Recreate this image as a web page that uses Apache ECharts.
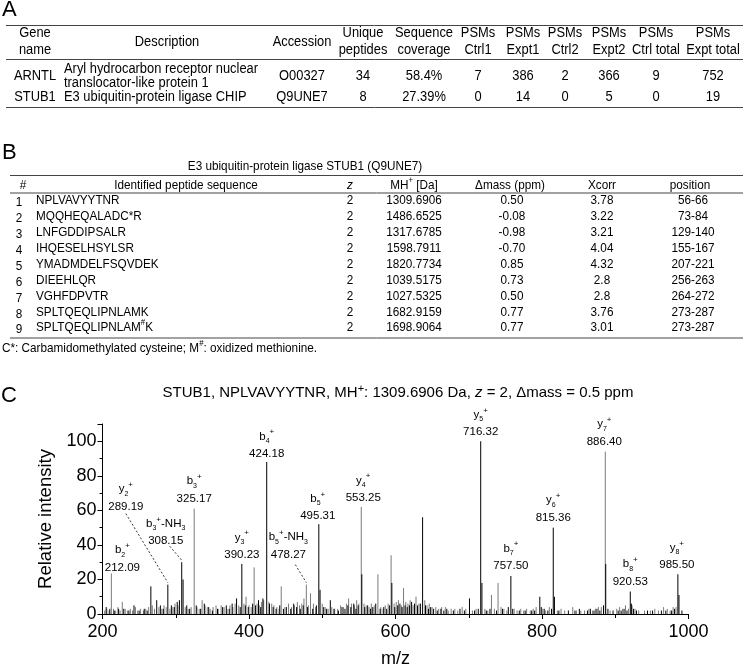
<!DOCTYPE html>
<html><head><meta charset="utf-8">
<script src="https://cdn.jsdelivr.net/npm/echarts@6/dist/echarts.min.js"></script>
<style>html,body{margin:0;padding:0;background:#fff}#c{width:745px;height:669px}</style>
</head><body><div id="c"></div>
<script>
// ---------- Table A data ----------
const headA = [['Gene','name'],['Description'],['Accession'],['Unique','peptides'],['Sequence','coverage'],['PSMs','Ctrl1'],['PSMs','Expt1'],['PSMs','Ctrl2'],['PSMs','Expt2'],['PSMs','Ctrl total'],['PSMs','Expt total']];
const geneA = ['ARNTL','STUB1'];
const descA = [['Aryl hydrocarbon receptor nuclear','translocator-like protein 1'],['E3 ubiquitin-protein ligase CHIP']];
const accA = ['O00327','Q9UNE7'];
const uniqueA = ['34','8'];
const coverA = ['58.4%','27.39%'];
const ctrl1A = ['7','0'];
const expt1A = ['386','14'];
const ctrl2A = ['2','0'];
const expt2A = ['366','5'];
const ctrlTotA = ['9','0'];
const exptTotA = ['752','19'];

// ---------- Table B data ----------
const titleB = 'E3 ubiquitin-protein ligase STUB1 (Q9UNE7)';
const headB = ['#','Identified peptide sequence','z','MH{p|+} [Da]','\u0394mass (ppm)','Xcorr','position'];
const seqB = ['NPLVAVYYTNR','MQQHEQALADC*R','LNFGDDIPSALR','IHQESELHSYLSR','YMADMDELFSQVDEK','DIEEHLQR','VGHFDPVTR','SPLTQEQLIPNLAMK','SPLTQEQLIPNLAM#K'];
const zB = ['2','2','2','2','2','2','2','2','2'];
const mhB = ['1309.6906','1486.6525','1317.6785','1598.7911','1820.7734','1039.5175','1027.5325','1682.9159','1698.9064'];
const dmB = ['0.50','-0.08','-0.98','-0.70','0.85','0.73','0.50','0.77','0.77'];
const xcB = ['3.78','3.22','3.21','4.04','4.32','2.8','2.8','3.76','3.01'];
const posB = ['56-66','73-84','129-140','155-167','207-221','256-263','264-272','273-287','273-287'];
const noteB = 'C*: Carbamidomethylated cysteine; M{p|#}: oxidized methionine.';

// ---------- Spectrum data (m/z, relative intensity) ----------
const greyPeaks = [[203,2],[206,3],[209,2],[212.09,23.5],[215,3],[218,2],[221,4],[224,2],[227,7],[231,3],[234,2],[238,3],[241,2],[245,4],[248,2],[252,3],[256,2],[259,3],[263,4],[268,5],[271,3],[277,4],[281,3],[284,5],[287,4],[292,3],[296,4],[299,6],[303,5],[313,4],[317,3],[321,4],[325.17,61],[329,4],[332,3],[336,8],[340,5],[343,4],[347,3],[351,4],[355,5],[358,3],[362,5],[366,4],[370,3],[374,5],[378,4],[381,6],[386,5],[393,6],[396,10],[400,5],[403,4],[407,27],[411,6],[414,5],[417,7],[420,8],[427,7],[431,6],[434,5],[438,4],[441,3],[444,16],[449,4],[454,6],[458,4],[462,5],[466,7],[469,5],[472,6],[475,9],[478.27,17],[481,5],[484,12],[488,6],[491,4],[500,6],[504,4],[508,3],[513,4],[517,3],[521,3],[525,5],[529,4],[533,6],[536,9],[540,6],[544,5],[547,8],[550,6],[553.25,62],[557,6],[560,5],[564,4],[567,6],[571,5],[576,23],[580,4],[583,3],[586,5],[590,6],[594,34],[598,6],[601,7],[604,8],[608,5],[611,15],[614,7],[617,6],[620,8],[624,5],[628,10],[632,6],[640,8],[643,5],[646,6],[650,4],[655,4],[659,3],[663,4],[668,4],[672,2],[676,3],[681,3],[685,2],[691,4],[696,3],[705,2],[710,3],[722,3],[726,2],[731,11],[735,3],[740,18],[744,4],[748,3],[752,2],[762,3],[766,2],[771,3],[775,2],[779,3],[784,2],[788,3],[792,4],[801,3],[805,2],[810,4],[821,2],[826,3],[831,2],[842,4],[847,2],[853,2],[858,2],[864,3],[869,2],[873,3],[877,4],[881,4],[886.40,94],[893,2],[902,3],[906,4],[910,3],[914,5],[918,3],[923,5],[927,3],[932,2],[940,2],[948,2],[954,3],[959,2],[966,4],[971,3],[975,2],[979,4],[983,4]];
const blackPeaks = [[205,4],[210,3],[216,2],[222,3],[229,3],[236,2],[243,5],[250,2],[257,3],[261,2],[266,16],[274,8],[279,5],[283,3],[289.19,17],[294,5],[298,4],[302,7],[305,8],[308.15,30],[310,20],[315,5],[319,3],[328,5],[334,3],[339,6],[345,4],[350,2],[357,3],[364,4],[369,5],[373,3],[377,6],[383,9],[388,4],[390.23,29],[395,5],[399,4],[405,6],[409,5],[413,8],[416,4],[419,9],[424.18,88],[428,6],[433,4],[437,3],[442,5],[447,3],[451,4],[457,3],[461,6],[465,4],[470,3],[474,5],[480,4],[487,3],[492,5],[495.31,52],[497,14],[502,4],[506,3],[511,8],[516,3],[522,2],[527,4],[531,3],[535,5],[539,4],[543,6],[546,3],[549,5],[554,23],[558,4],[562,5],[566,3],[569,4],[573,6],[579,3],[584,4],[588,3],[592,5],[595,18],[599,4],[603,5],[606,6],[609,4],[613,5],[616,4],[619,5],[622,7],[626,6],[630,5],[634,6],[637,56],[641,5],[645,3],[648,4],[652,3],[657,2],[662,3],[666,2],[670,3],[679,2],[688,3],[694,2],[701,9],[708,2],[713,3],[716.32,100],[718,18],[724,2],[729,3],[738,2],[746,3],[754,4],[757.50,22],[760,3],[769,2],[777,2],[786,2],[790,2],[797,10],[799,4],[803,3],[808,2],[813,3],[815.36,50],[817,10],[823,2],[836,2],[845,2],[851,3],[862,2],[866,3],[871,2],[875,3],[879,2],[884,5],[887,29],[890,3],[897,2],[904,2],[908,2],[912,3],[916,2],[920.53,13],[922,6],[925,3],[929,2],[944,2],[951,2],[963,2],[969,2],[977,2],[981,3],[985.50,23],[987,11],[991,2]];

// fragment-ion annotations
const ionType = ['b','y','b','b','y','b','b','b','y','y','b','y','y','b','y'];
const ionNum  = ['2','2','3','3','3','4','5','5','4','5','7','6','7','8','8'];
const ionLoss = ['','','-NH3','','','','-NH3','','','','','','','',''];
const ionMz   = [212.09,289.19,308.15,325.17,390.23,424.18,478.27,495.31,553.25,716.32,757.50,815.36,886.40,920.53,985.50];
const ionInt  = [23.5,17,30,61,29,88,17,52,62,100,22,50,94,13,23];

const xTicks = [200,400,600,800,1000];
const yTicks = [0,20,40,60,80,100];
const specTitle = 'STUB1, NPLVAVYYTNR, MH{p|+}: 1309.6906 Da, {i|z} = 2, \u0394mass = 0.5 ppm';

// ---------- styling (not data) ----------
const FONT = '"Liberation Sans", Arial, sans-serif';
const labelDx = [11,-42,-16,0,0,0,-18,-1,2,0,0,0,-1,0,-1];
const labelDy = [-6,-78,-21,-10,-9,-8,-30,-8,-9,-9,-10,-10,-10,-10,-9];
const leader  = [null,[0,7],[4,5],null,null,null,[7,10],null,null,null,null,null,null,null,null];

const chart = echarts.init(document.getElementById('c'), null, {renderer:'canvas'});

function lineSeries(data, color){
  return {
    type:'custom', data:data, encode:{x:0,y:1}, clip:true, animation:false,
    renderItem:function(params, api){
      const x = api.value(0), y = api.value(1);
      const p0 = api.coord([x,0]), p1 = api.coord([x,y]);
      return {type:'line', shape:{x1:p0[0],y1:p0[1],x2:p1[0],y2:p1[1]}, style:{stroke:color, lineWidth:1}};
    }
  };
}

chart.setOption({
  backgroundColor:'#fff',
  animation:false,
  grid:{left:102.5, right:56.5, top:424, bottom:52.3},
  xAxis:{type:'value', min:200, max:1000, interval:200,
    axisLine:{lineStyle:{color:'#000', width:1}},
    axisTick:{show:true, length:5, lineStyle:{color:'#000'}},
    minorTick:{show:true, splitNumber:2, length:4, lineStyle:{color:'#000'}},
    splitLine:{show:false},
    axisLabel:{color:'#000', fontSize:18, fontFamily:FONT, margin:9,
      formatter:function(v){ return xTicks.indexOf(v)>=0 ? String(v) : ''; }},
    name:'m/z', nameLocation:'middle', nameGap:36, nameTextStyle:{color:'#000', fontSize:18, fontFamily:FONT}},
  yAxis:{type:'value', min:0, max:110, interval:20,
    axisLine:{show:true, lineStyle:{color:'#000', width:1}},
    axisTick:{show:true, length:5, lineStyle:{color:'#000'}},
    minorTick:{show:true, splitNumber:2, length:3, lineStyle:{color:'#000'}},
    splitLine:{show:false},
    axisLabel:{color:'#000', fontSize:18, fontFamily:FONT, margin:6,
      formatter:function(v){ return yTicks.indexOf(v)>=0 ? String(v) : ''; }},
    name:'Relative intensity', nameLocation:'middle', nameGap:44, nameTextStyle:{color:'#000', fontSize:18.5, fontFamily:FONT}},
  series:[lineSeries(greyPeaks,'#7a7a7a'), lineSeries(blackPeaks,'#000')]
});

// ---------- graphic helpers ----------
function richSet(size){
  return {
    n:{fontSize:size, fontFamily:FONT, fill:'#000', lineHeight:size+5, verticalAlign:'middle'},
    s:{fontSize:Math.round(size*0.65), fontFamily:FONT, fill:'#000', lineHeight:Math.round(size*0.65), verticalAlign:'bottom'},
    p:{fontSize:Math.round(size*0.7), fontFamily:FONT, fill:'#000', lineHeight:Math.round(size*0.7), verticalAlign:'top'},
    i:{fontSize:size, fontFamily:FONT, fontStyle:'italic', fill:'#000', lineHeight:size+5, verticalAlign:'middle'}
  };
}
function T(x, y, text, o){
  o = o || {};
  const size = o.size || 13;
  const t = text.indexOf('{')>=0 ? text.replace(/^([^{]+)/, '{n|$1}').replace(/\}([^{}]+)\{/g, '}{n|$1}{').replace(/\}([^{}]+)$/, '}{n|$1}') : text;
  return {type:'text', x:x, y:y, scaleX:o.sx||1, z:100, silent:true,
    style:{text:t, x:0, y:0, fill:'#000', fontSize:size, fontFamily:FONT, fontStyle:o.italic?'italic':'normal',
      align:o.align||'center', verticalAlign:'middle', textAlign:o.align||'center', textVerticalAlign:'middle', rich:richSet(size)}};
}
function L(x1,y1,x2,y2,o){
  o = o || {};
  return {type:'line', z:100, silent:true, shape:{x1:x1,y1:y1,x2:x2,y2:y2},
    style:{stroke:o.color||'#444', lineWidth:o.w||1, lineDash:o.dash||null}};
}

const G = [];
// panel labels
G.push(T(2,10,'A',{size:22,align:'left'}));
G.push(T(2,153,'B',{size:22,align:'left'}));
G.push(T(1,396,'C',{size:22,align:'left'}));

// ---------- Table A ----------
const SA = 14, XA = 0.92;
const colXA = [35,167,302,363,424,478,523,565,609,656,713];
G.push(L(6,25.5,743,25.5));
G.push(L(6,59.5,743,59.5));
G.push(L(6,107.5,743,107.5));
headA.forEach(function(h,i){
  if(h.length===2){ G.push(T(colXA[i],33,h[0],{size:SA,sx:XA})); G.push(T(colXA[i],50,h[1],{size:SA,sx:XA})); }
  else G.push(T(colXA[i],42,h[0],{size:SA,sx:XA}));
});
const rowYA = [76,97];
const colsA = [null,null,accA,uniqueA,coverA,ctrl1A,expt1A,ctrl2A,expt2A,ctrlTotA,exptTotA];
geneA.forEach(function(g,r){
  G.push(T(colXA[0],rowYA[r],g,{size:SA,sx:XA}));
  const d = descA[r];
  if(d.length===2){ G.push(T(64,69,d[0],{size:SA,sx:XA,align:'left'})); G.push(T(64,83,d[1],{size:SA,sx:XA,align:'left'})); }
  else G.push(T(64,rowYA[r],d[0],{size:SA,sx:XA,align:'left'}));
  for(let c=2;c<colsA.length;c++) G.push(T(colXA[c],rowYA[r],colsA[c][r],{size:SA,sx:XA}));
});

// ---------- Table B ----------
const SB = 13.5, XB = 0.87;
const colXB = [23,186,350,414,510,602,690];
G.push(T(305,166,titleB,{size:SB,sx:XB}));
G.push(L(10,175.5,743,175.5));
headB.forEach(function(h,i){ G.push(T(colXB[i],185,h,{size:SB,sx:XB,italic:i===2})); });
G.push(L(10,193,743,193));
const rowStepB = 15.9, row0B = 200.5;
seqB.forEach(function(s,r){
  const y = row0B + r*rowStepB;
  G.push(T(19,y+2,String(r+1),{size:SB,sx:XB}));
  G.push(T(36,y,s.replace('#','{p|#}'),{size:SB,sx:XB,align:'left'}));
  G.push(T(colXB[2],y,zB[r],{size:SB,sx:XB}));
  G.push(T(colXB[3],y,mhB[r],{size:SB,sx:XB}));
  G.push(T(colXB[4]+2,y,dmB[r],{size:SB,sx:XB}));
  G.push(T(colXB[5],y,xcB[r],{size:SB,sx:XB}));
  G.push(T(colXB[6]+3,y,posB[r],{size:SB,sx:XB}));
});
G.push(L(10,338,743,338));
G.push(T(2,348,noteB,{size:SB,sx:XB,align:'left'}));

// ---------- Spectrum title + annotations ----------
G.push(T(398,393,specTitle,{size:15}));
ionMz.forEach(function(mz,i){
  const p = chart.convertToPixel({gridIndex:0},[mz, ionInt[i]]);
  const cx = p[0] + labelDx[i], cy = p[1] + labelDy[i];
  let name = '{n|'+ionType[i]+'}{s|'+ionNum[i]+'}{p|+}';
  if(ionLoss[i]) name += '{n|-NH}{s|3}';
  G.push({type:'text', x:cx, y:cy-17.5, z:100, silent:true,
    style:{text:name, x:0, y:0, fill:'#000', fontSize:11.5, fontFamily:FONT, align:'center', verticalAlign:'middle', rich:richSet(11.5)}});
  G.push(T(cx, cy, mz.toFixed(2), {size:11.5}));
  if(leader[i]) G.push(L(cx+leader[i][0], cy+leader[i][1], p[0], p[1]-2, {color:'#000', w:0.8, dash:[2,2]}));
});

chart.setOption({graphic:{elements:G}});
</script></body></html>
